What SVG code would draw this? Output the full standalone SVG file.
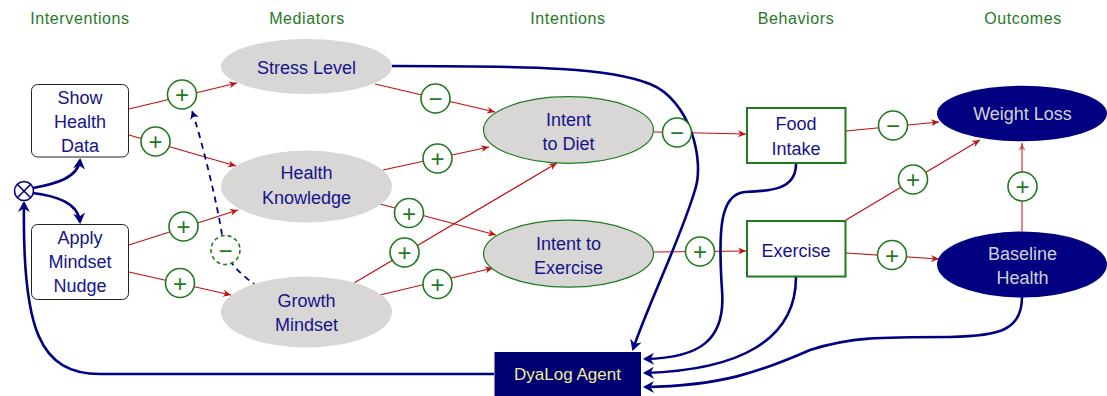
<svg xmlns="http://www.w3.org/2000/svg" width="1107" height="396" viewBox="0 0 1107 396">
<defs>
<style>
text{font-family:"Liberation Sans",Arial,sans-serif;}
.hdr{font-size:16px;fill:#1f7a1f;text-anchor:middle;letter-spacing:0.6px;}
.nt{font-size:18px;fill:#14148a;text-anchor:middle;}
.lt{font-size:18px;fill:#d2d2d8;text-anchor:middle;}
.yt{font-size:17px;fill:#eeee9a;text-anchor:middle;}
.gray{fill:#d8d7d6;stroke:none;}
.gint{fill:#d8d7d6;stroke:#1f7a1f;stroke-width:1.2;}
.navyfill{fill:#000080;stroke:none;}
.box{fill:#fff;stroke:#222;stroke-width:1;}
.gbox{fill:#fff;stroke:#1f7a1f;stroke-width:2;}
.red{fill:none;stroke:#c01010;stroke-width:1.2;marker-end:url(#rh);}
.redl{fill:none;stroke:#c01010;stroke-opacity:0.5;stroke-width:2;marker-end:url(#rh2);}
.nv{fill:none;stroke:#000080;stroke-width:2.6;marker-end:url(#nh);}
.dash{fill:none;stroke:#000080;stroke-width:1.8;stroke-dasharray:6 5;marker-end:url(#dh);}
.sc{fill:#fff;stroke:#1f7a1f;stroke-width:1.6;}
.scd{fill:#fff;stroke:#1f7a1f;stroke-width:1.6;stroke-dasharray:4 3;}
.sg{font-size:24px;fill:#1f7a1f;text-anchor:middle;}
</style>
<marker id="rh" markerUnits="userSpaceOnUse" viewBox="-10 -5 12 10" refX="0" refY="0" markerWidth="12" markerHeight="10" orient="auto">
<path d="M0,0 L-8,-3.5 L-5.5,0 L-8,3.5 Z" fill="#c01010"/>
</marker>
<marker id="rh2" markerUnits="userSpaceOnUse" viewBox="-10 -5 12 10" refX="0" refY="0" markerWidth="12" markerHeight="10" orient="auto">
<path d="M0,0 L-8,-3.5 L-5.5,0 L-8,3.5 Z" fill="#c01010" fill-opacity="0.6"/>
</marker>
<marker id="nh" markerUnits="userSpaceOnUse" viewBox="-12 -7 14 14" refX="-1" refY="0" markerWidth="14" markerHeight="14" orient="auto">
<path d="M1,0 L-10,-6 L-6.5,0 L-10,6 Z" fill="#000080"/>
</marker>
<marker id="dh" markerUnits="userSpaceOnUse" viewBox="-10 -6 12 12" refX="0" refY="0" markerWidth="12" markerHeight="12" orient="auto">
<path d="M0,0 L-8,-4.5 L-5.5,0 L-8,4.5 Z" fill="#000080"/>
</marker>
</defs>
<rect x="0" y="0" width="1107" height="396" fill="#fff"/>

<g id="headers">
<text class="hdr" x="80" y="24">Interventions</text>
<text class="hdr" x="307" y="24">Mediators</text>
<text class="hdr" x="568" y="24">Intentions</text>
<text class="hdr" x="796" y="24">Behaviors</text>
<text class="hdr" x="1023" y="24">Outcomes</text>
</g>

<g id="connectors">
<!-- red causal edges -->
<path class="red" d="M129,109 L237,83"/>
<path class="red" d="M129,135 L236,166"/>
<path class="red" d="M129,245 L238,210"/>
<path class="red" d="M129,272 L231,295"/>
<path class="red" d="M375,84 L495,112"/>
<path class="red" d="M383,170 L489,147"/>
<path class="red" d="M380,204 L496,235"/>
<path class="red" d="M354,283 L557,163"/>
<path class="red" d="M380,295 L493,268"/>
<path class="red" d="M654,132 L746,134"/>
<path class="red" d="M654,252 L746,251"/>
<path class="red" d="M846,131 L939,122"/>
<path class="red" d="M846,220 L980,140"/>
<path class="red" d="M846,253 L939,259"/>
<path class="redl" d="M1022,231 L1022,143"/>
<!-- dashed feedback -->
<path class="dash" d="M258,287 C232,268 225,258 222,235 S202,140 192,111"/>
<!-- navy thick edges -->
<path class="nv" d="M33,188 C55,184 78,178 80,160"/>
<path class="nv" d="M33,193 C55,196 78,202 80,222"/>
<path class="nv" d="M494,374 L100,374 C40,374 22,330 24,203"/>
<path class="nv" d="M392,66 C540,66 610,68 650,84 C690,100 705,160 695,190 C680,240 650,300 633,349"/>
<path class="nv" d="M796,164 C796,190 770,191 745,192 C720,194 718,230 722,290 C726,340 700,358 645,359"/>
<path class="nv" d="M796,277 C796,340 740,370 645,373"/>
<path class="nv" d="M1022,297 C1022,330 1000,336 950,337 C880,337 850,337 810,350 C760,372 720,386 645,387"/>
</g>

<g id="sign-circles">
<circle class="sc" cx="182" cy="94.5" r="14.5"/><text class="sg" x="182" y="103">+</text>
<circle class="sc" cx="155.5" cy="141.5" r="14.5"/><text class="sg" x="155.5" y="150">+</text>
<circle class="sc" cx="183.5" cy="226.5" r="14.5"/><text class="sg" x="183.5" y="235">+</text>
<circle class="sc" cx="180" cy="283" r="14.5"/><text class="sg" x="180" y="291.5">+</text>
<circle class="scd" cx="225.5" cy="250" r="14.5"/><text class="sg" x="225.5" y="258.5">−</text>
<circle class="sc" cx="435.5" cy="98.5" r="14.5"/><text class="sg" x="435.5" y="107">−</text>
<circle class="sc" cx="437.5" cy="158.5" r="14.5"/><text class="sg" x="437.5" y="167">+</text>
<circle class="sc" cx="409" cy="213" r="14.5"/><text class="sg" x="409" y="221.5">+</text>
<circle class="sc" cx="404.5" cy="252.5" r="14.5"/><text class="sg" x="404.5" y="261">+</text>
<circle class="sc" cx="437.5" cy="284" r="14.5"/><text class="sg" x="437.5" y="292.5">+</text>
<circle class="sc" cx="677" cy="132.5" r="14.5"/><text class="sg" x="677" y="141">−</text>
<circle class="sc" cx="700" cy="251.5" r="14.5"/><text class="sg" x="700" y="260">+</text>
<circle class="sc" cx="893" cy="125.5" r="14.5"/><text class="sg" x="893" y="134">−</text>
<circle class="sc" cx="913" cy="179.5" r="14.5"/><text class="sg" x="913" y="188">+</text>
<circle class="sc" cx="892" cy="255" r="14.5"/><text class="sg" x="892" y="263.5">+</text>
<circle class="sc" cx="1022.5" cy="186.5" r="14.5"/><text class="sg" x="1022.5" y="195">+</text>
</g>

<g id="show-health-data">
<rect class="box" x="31.5" y="84.5" width="97" height="72.5" rx="6"/>
<text class="nt" x="80" y="103.5">Show</text>
<text class="nt" x="80" y="127.5">Health</text>
<text class="nt" x="80" y="151.5">Data</text>
</g>
<g id="apply-mindset-nudge">
<rect class="box" x="31.5" y="224.5" width="97" height="75" rx="6"/>
<text class="nt" x="80" y="244">Apply</text>
<text class="nt" x="80" y="268">Mindset</text>
<text class="nt" x="80" y="292">Nudge</text>
</g>
<g id="combine">
<circle cx="24" cy="191" r="9.5" fill="#fff" stroke="#000080" stroke-width="1.6"/>
<path d="M17.3,184.3 L30.7,197.7 M30.7,184.3 L17.3,197.7" stroke="#000080" stroke-width="1.6"/>
</g>
<g id="stress-level">
<ellipse class="gray" cx="306.5" cy="66.5" rx="85.5" ry="27.5"/>
<text class="nt" x="306.5" y="74">Stress Level</text>
</g>
<g id="health-knowledge">
<ellipse class="gray" cx="306.5" cy="186.5" rx="85.5" ry="36"/>
<text class="nt" x="306.5" y="179">Health</text>
<text class="nt" x="306.5" y="203.5">Knowledge</text>
</g>
<g id="growth-mindset">
<ellipse class="gray" cx="306.5" cy="312" rx="85.5" ry="35.5"/>
<text class="nt" x="306.5" y="307">Growth</text>
<text class="nt" x="306.5" y="330.5">Mindset</text>
</g>
<g id="intent-diet">
<ellipse class="gint" cx="568.5" cy="130" rx="85" ry="33.3"/>
<text class="nt" x="568.5" y="126">Intent</text>
<text class="nt" x="568.5" y="150">to Diet</text>
</g>
<g id="intent-exercise">
<ellipse class="gint" cx="568.5" cy="253.7" rx="85" ry="33.5"/>
<text class="nt" x="568.5" y="250">Intent to</text>
<text class="nt" x="568.5" y="273.5">Exercise</text>
</g>
<g id="food-intake">
<rect class="gbox" x="747" y="108" width="98.5" height="55"/>
<text class="nt" x="796" y="130">Food</text>
<text class="nt" x="796" y="155">Intake</text>
</g>
<g id="exercise">
<rect class="gbox" x="747" y="221" width="98.5" height="55.5"/>
<text class="nt" x="796" y="256.5">Exercise</text>
</g>
<g id="weight-loss">
<ellipse class="navyfill" cx="1022" cy="113.5" rx="85" ry="27.8"/>
<text class="lt" x="1022.5" y="120">Weight Loss</text>
</g>
<g id="baseline-health">
<ellipse class="navyfill" cx="1022" cy="264.5" rx="85" ry="33"/>
<text class="lt" x="1022.5" y="260">Baseline</text>
<text class="lt" x="1022.5" y="284">Health</text>
</g>
<g id="dyalog-agent">
<rect x="494.5" y="352" width="146.5" height="44" fill="#000072"/>
<text class="yt" x="567.5" y="380">DyaLog Agent</text>
</g>
</svg>
